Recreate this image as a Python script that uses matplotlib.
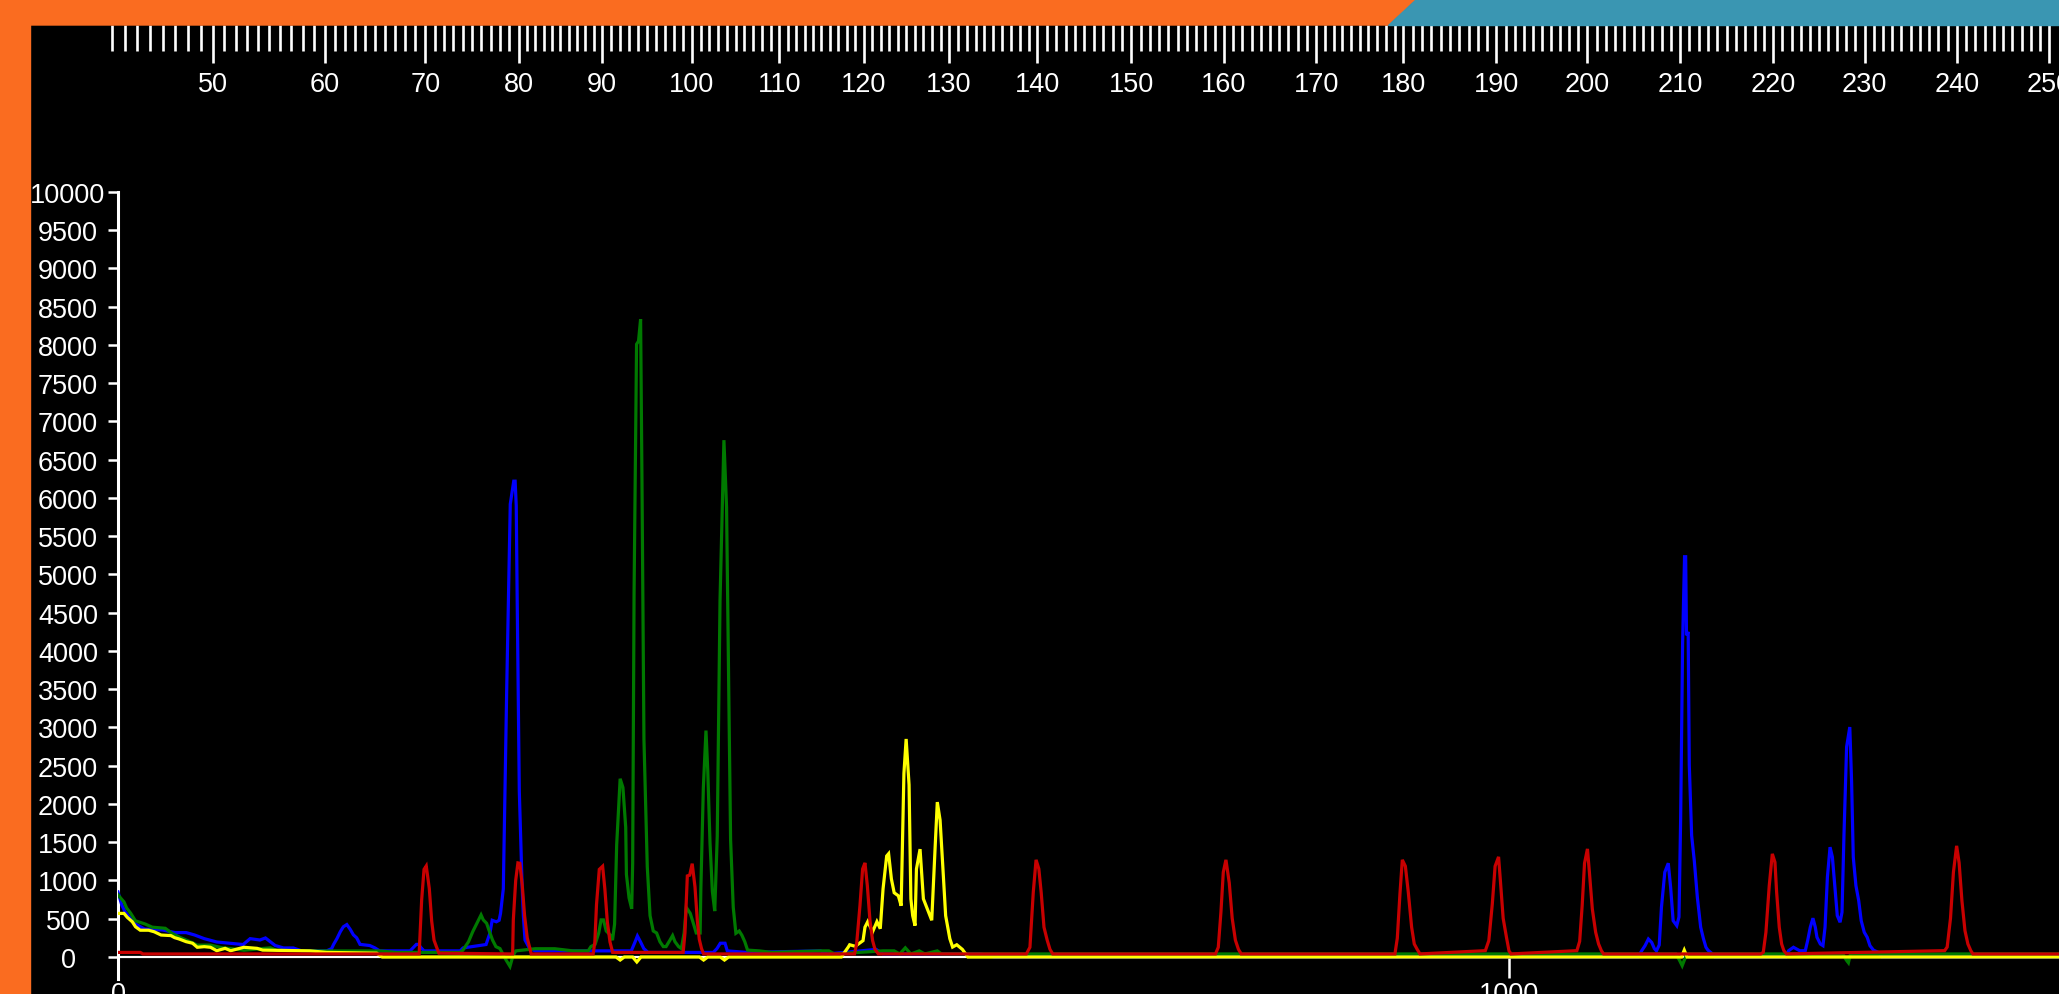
import matplotlib
matplotlib.use("Agg")
import matplotlib.pyplot as plt
import numpy as np
from matplotlib.patches import Polygon, Rectangle

# Traces: scan number vs. intensity (RFU)
blue_scan = [0, 2.7, 5, 12, 19, 32, 41, 49, 55, 62, 71, 90, 95, 102, 106, 113, 119, 126, 132,
             150, 153.6, 155, 157.4, 159.8, 162, 164.5, 167, 169.2, 171.6, 174, 181, 184.8, 188,
             210, 212, 214.5, 216, 218, 220, 246, 248, 264.6, 267.4, 269, 272, 274, 275, 277,
             279.4, 282, 284.5, 285.5, 286.3, 287, 288.5, 290.5, 291.4, 292.6, 296, 300,
             369, 371.7, 373.4, 375.7, 378, 381, 428, 430.6, 433, 436.4, 438, 452,
             505, 510, 534, 545, 550, 620, 630,
             1093, 1095.4, 1097.8, 1100.2, 1102.6, 1104.5, 1106, 1108, 1109.6, 1112, 1114.5,
             1116.2, 1118, 1120.6, 1122.2, 1123.4, 1124.8, 1126.2, 1127, 1127.6, 1128.8,
             1129.6, 1131.3, 1133.2, 1135.4, 1137.8, 1139.7, 1141.6, 1143, 1145.6, 1148,
             1199, 1201, 1204.5, 1209, 1213, 1214.7, 1216.6, 1218.5, 1220.2, 1221.4, 1223.8,
             1225.7, 1227.2, 1228.9, 1230.8, 1232.5, 1234.4, 1236, 1238, 1239.4, 1240.8,
             1242.7, 1245, 1246.3, 1247.5, 1249.4, 1251.4, 1253.2, 1255.4, 1257.5, 1259.5,
             1262, 1265.5, 1268, 1400]
blue_rfu = [850, 680, 593, 438, 366, 353, 319, 319, 288, 240, 196, 163, 240, 222, 249, 150, 118, 118, 80,
            80, 110, 165, 240, 330, 395, 424, 360, 290, 250, 165, 150, 118, 80,
            80, 118, 165, 165, 118, 80, 80, 118, 163, 314, 480, 460, 480, 570, 890,
            3455, 5920, 6220, 6220, 5900, 4633, 2166, 940, 540, 222, 107, 80,
            80, 196, 275, 196, 110, 60, 60, 110, 180, 180, 80, 60,
            80, 40, 80, 100, 40, 40, 0,
            0, 82, 148, 235, 190, 110, 80, 157, 650, 1108, 1226,
            910, 475, 410, 523, 1806, 4097, 5232, 5232, 4205, 4250,
            2513, 1588, 1260, 781, 389, 245, 127, 90, 50, 0,
            0, 82, 127, 82, 82, 214, 389, 507, 389, 258, 170,
            148, 389, 1043, 1436, 1305, 890, 541, 454, 585, 1588,
            2745, 3006, 2286, 1305, 933, 737, 475, 323, 258, 148,
            90, 60, 0, 0]

green_scan = [0, 1.9, 4.3, 6.2, 9, 12.5, 19.7, 24.5, 34, 38.9, 45, 53, 57, 66.5, 75, 81, 90.5,
              109.6, 114, 138, 188, 200, 246, 248, 252, 255, 258, 261, 262.6, 265, 267.4,
              269.3, 271.7, 274.6, 278.9, 281.8, 284, 286, 300, 314, 327, 338, 340, 343,
              345.6, 347.3, 349, 351, 354, 355.5, 357, 358.5, 361, 363, 365, 365.5, 367.4,
              369.3, 370, 371, 372.8, 374.2, 375.7, 376.7, 378.1, 380.5, 382.5, 384.8, 387.2,
              389.6, 392, 394, 396.8, 398.7, 400.4, 403, 405, 407, 408.5, 411.4, 413.8, 415.7,
              418.5, 419, 420.8, 422.7, 424, 425.6, 427.3, 429, 430.8, 432.8, 435.6, 437.5,
              439, 440.4, 442.3, 444.2, 446.6, 448.5, 450.6, 452.6, 461, 470,
              505, 511, 515, 550, 558, 562, 566, 570, 576, 580, 589, 592,
              1120, 1122.5, 1124.5, 1126.5, 1128, 1240, 1242.5, 1244, 1245.5, 1400]
green_rfu = [814, 770, 720, 640, 575, 473, 430, 390, 375, 308, 253, 190, 155, 155, 120, 110, 88,
             120, 88, 79, 79, 60, 60, 90, 200, 330, 440, 550, 485, 440, 314,
             220, 135, 110, -37, -123, 20, 80, 108, 108, 80, 80, 136, 165,
             314, 485, 485, 340, 285, 220, 430, 1466, 2330, 2215, 1694, 1080, 773,
             630, 1230, 4750, 8010, 8050, 8337, 6190, 2847, 1180, 540, 340, 314,
             200, 136, 136, 220, 280, 200, 136, 110, 314, 650, 570, 430, 314,
             314, 880, 2210, 2960, 2430, 1490, 857, 600, 1578, 4660, 6756, 5880,
             3607, 1530, 650, 310, 340, 285, 200, 90, 80, 60,
             80, 80, 40, 80, 80, 40, 120, 40, 80, 40, 80, 40,
             40, -40, -114, -20, 40, 40, -40, -75, 40, 40]

yellow_scan = [0, 4.3, 6.7, 10.3, 12.6, 16, 22, 26, 31, 38, 40.7, 44, 49, 53.6, 57, 62, 66.5,
               71, 77, 81, 90.5, 100, 104, 138, 150, 186, 190, 358, 361, 364, 370, 373, 376,
               418, 421, 424, 433, 436, 439, 520, 525, 526, 530, 535.6, 537, 539, 542.5,
               545.6, 548, 550, 552.6, 554, 556, 558, 561, 563, 563.8, 565, 566.6, 568.7,
               570, 571.3, 573, 574, 576.6, 579, 582, 585, 587.5, 589, 591, 593, 595, 598,
               600, 603, 607, 609, 611, 1124, 1126, 1128, 1400]
yellow_rfu = [570, 570, 518, 460, 395, 350, 350, 330, 287, 280, 253, 235, 200, 180, 127, 135, 127,
              82, 113, 82, 127, 113, 90, 80, 60, 50, 0, 0, -40, 0, 0, -65, 0,
              0, -40, 0, 0, -40, 0, 0, 130, 160, 140, 214, 390, 462, 330,
              462, 370, 890, 1320, 1350, 1020, 840, 800, 670, 1350, 2400, 2850, 2250,
              760, 540, 410, 1150, 1410, 760, 620, 480, 1457, 2025, 1790, 1170, 540, 240,
              130, 160, 100, 50, 0, 0, 90, 0, 0]

red_scan = [0, 16, 18, 216.5, 218.3, 220, 221.6, 223.8, 225.5, 227.2, 229, 230.7,
            283.7, 284.2, 285.9, 287.5, 288.9, 290.6, 292.3, 294.2, 296, 297,
            341.6, 342.8, 344, 346, 348.4, 350, 351.8, 353.7, 355.6,
            406.3, 407.6, 409.3, 411, 412.8, 414.8, 416.5, 417.9, 419.5, 421,
            529.5, 531, 533.4, 535.3, 537, 538.7, 540.6, 542.5, 544.2, 546.6,
            653, 655.6, 658, 660, 662, 663.7, 665.7, 668, 670, 672,
            789, 791, 792.9, 794.6, 796.5, 798.9, 801, 803.3, 805.5, 807.5,
            918, 919.7, 921.6, 923.3, 925.5, 927.6, 930, 931.9, 934, 936,
            983, 985.5, 988, 990, 992.5, 993.8, 995.8, 998.3, 1000, 1001.5,
            1048.8, 1050.8, 1052.6, 1054.3, 1056.4, 1057.8, 1059.9, 1062.3, 1064.4, 1066.4, 1068,
            1181, 1182.8, 1184.7, 1187.1, 1189.3, 1191.2, 1192.4, 1194.3, 1196, 1197.6, 1199.5,
            1313.2, 1315, 1317.4, 1319.5, 1321.8, 1323.6, 1325.6, 1327.8, 1329.9, 1332, 1333.5,
            1400]
red_rfu = [60, 60, 40, 40, 746, 1145, 1190, 894, 471, 220, 130, 50,
           40, 485, 1000, 1230, 1225, 940, 540, 250, 120, 40,
           40, 196, 685, 1145, 1186, 890, 458, 196, 60,
           60, 314, 1060, 1070, 1220, 916, 470, 230, 110, 40,
           40, 170, 672, 1150, 1230, 933, 475, 214, 100, 40,
           40, 127, 847, 1270, 1152, 840, 389, 220, 100, 40,
           40, 127, 585, 1108, 1270, 968, 507, 220, 100, 40,
           40, 245, 825, 1270, 1187, 847, 389, 170, 100, 40,
           83, 215, 694, 1186, 1309, 1000, 506, 245, 80, 40,
           83, 205, 672, 1226, 1413, 1108, 628, 323, 170, 83, 40,
           40, 61, 323, 933, 1348, 1239, 847, 388, 170, 83, 40,
           83, 130, 506, 1108, 1453, 1230, 737, 344, 170, 83, 40,
           40]

# size ruler on top: fragment length (bp) against scan number
ruler_bp = [42, 50, 60, 70, 80, 90, 100, 110, 120, 130, 140, 150, 160, 170, 180, 190, 200,
            210, 220, 230, 240, 250]
ruler_scan = [-4.3, 68.5, 148.8, 221, 288, 348, 412.6, 475.5, 536, 597.5, 661, 728.5, 795,
              861.4, 924, 991, 1056.3, 1123, 1190, 1255.6, 1322, 1388.5]
ruler_major = list(range(50, 251, 10))
ruler_minor = [b for b in range(42, 251) if b % 10 != 0]

y_ticks = list(range(0, 10001, 500))
x_ticks = [0, 1000]

W, H = 2059, 995
ORANGE = "#FA6C20"
TEAL = "#3A96B2"


def fig_xy(x, y):
    return (x / W, 1 - y / H)


def draw_frame(fig):
    fig.patches.append(Rectangle(fig_xy(0, H), 30 / W, 1, transform=fig.transFigure,
                                 color=ORANGE, zorder=0))
    fig.patches.append(Polygon([fig_xy(0, 0), fig_xy(1416, 0), fig_xy(1388, 26), fig_xy(0, 26)],
                               closed=True, transform=fig.transFigure, color=ORANGE, zorder=0))
    fig.patches.append(Polygon([fig_xy(1416, 0), fig_xy(W, 0), fig_xy(W, 26), fig_xy(1388, 26)],
                               closed=True, transform=fig.transFigure, color=TEAL, zorder=0))


def main():
    plt.rcParams['font.family'] = ['Liberation Sans', 'DejaVu Sans']
    fig = plt.figure(figsize=(W / 100, H / 100), dpi=100, facecolor="black")
    draw_frame(fig)

    left_px, top_px, bottom_px = 118, 150, 985
    px_per_scan = 1.391
    x_max = (W - left_px) / px_per_scan

    ax = fig.add_axes([left_px / W, (H - bottom_px) / H, (W - left_px) / W, (bottom_px - top_px) / H])
    ax.set_facecolor("black")
    for scan, rfu, col, z in [(blue_scan, blue_rfu, "#0000FF", 3),
                              (green_scan, green_rfu, "#007A00", 4),
                              (yellow_scan, yellow_rfu, "#FFFF00", 5),
                              (red_scan, red_rfu, "#C80000", 6)]:
        ax.plot(scan, rfu, color=col, lw=2.3, zorder=z, solid_joinstyle="miter")

    ax.set_xlim(0, x_max)
    ax.set_ylim(-353, 10562)
    ax.spines['top'].set_visible(False)
    ax.spines['right'].set_visible(False)
    ax.spines['left'].set_color("white")
    ax.spines['left'].set_linewidth(2.2)
    ax.spines['left'].set_bounds(-288, 10000)
    ax.spines['bottom'].set_position(('data', 0))
    ax.spines['bottom'].set_color("white")
    ax.spines['bottom'].set_linewidth(1.6)

    ax.set_yticks(y_ticks)
    ax.set_yticklabels([str(v) for v in y_ticks])
    ax.tick_params(axis='y', colors="white", length=7.5, width=1.8, direction='out',
                   pad=28.5, labelsize=19.5)
    for lbl in ax.get_yticklabels():
        lbl.set_horizontalalignment('center')
    ax.set_xticks(x_ticks)
    ax.set_xticklabels([str(v) for v in x_ticks])
    ax.tick_params(axis='x', colors="white", length=15, width=1.8, direction='out',
                   pad=2, labelsize=19.5)

    # size ruler (bp) across the top
    r_left = 100
    ax_r = fig.add_axes([r_left / W, (H - 26) / H, (W - r_left) / W, 1 / H])
    ax_r.patch.set_alpha(0)
    ax_r.set_xlim(-(left_px - r_left) / px_per_scan, x_max)
    for s in ax_r.spines.values():
        s.set_visible(False)
    ax_r.set_yticks([])
    ax_r.set_xticks(np.interp(ruler_major, ruler_bp, ruler_scan))
    ax_r.set_xticklabels([str(b) for b in ruler_major])
    ax_r.set_xticks(np.interp(ruler_minor, ruler_bp, ruler_scan), minor=True)
    ax_r.tick_params(axis='x', which='major', colors="white", length=27.4, width=1.9,
                     direction='out', pad=5.5, labelsize=19.5)
    ax_r.tick_params(axis='x', which='minor', colors="white", length=18.7, width=1.9,
                     direction='out')

    fig.savefig("out.png", dpi=100, facecolor="black")


if __name__ == "__main__":
    main()
